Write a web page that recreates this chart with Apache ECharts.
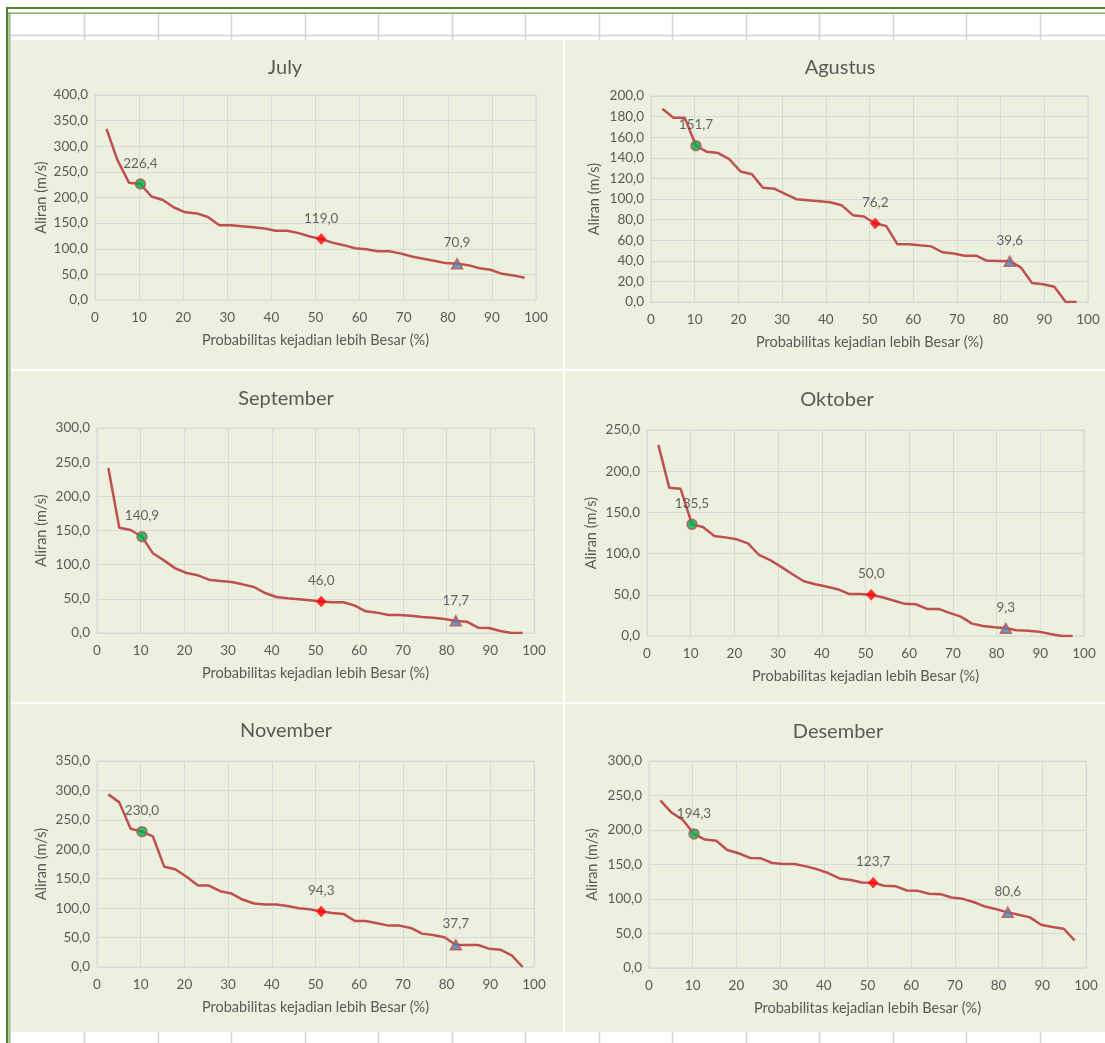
<!DOCTYPE html>
<html>
<head>
<meta charset="utf-8">
<script src="https://cdn.jsdelivr.net/npm/echarts@6/dist/echarts.min.js"></script>
<style>
html, body { margin: 0; padding: 0; background: #fff; }
#main { width: 1105px; height: 1043px; }
</style>
</head>
<body>
<div id="main"></div>
<script>
// probabilitas (%) - 38 titik, sama untuk tiap bulan
var prob = [2.6, 5.1, 7.7, 10.3, 12.8, 15.4, 17.9, 20.5, 23.1, 25.6, 28.2, 30.8, 33.3, 35.9, 38.5, 41.0, 43.6, 46.2, 48.7,
    51.3, 53.8, 56.4, 59.0, 61.5, 64.1, 66.7, 69.2, 71.8, 74.4, 76.9, 79.5, 82.1, 84.6, 87.2, 89.7, 92.3, 94.9, 97.4];

var months = ['July', 'Agustus', 'September', 'Oktober', 'November', 'Desember'];

var july = [333.8, 273, 229, 226.4, 202, 195, 180.5, 171, 169, 162, 146, 146, 144, 142, 139.6, 135, 135, 130.5, 124,
    119.0, 112, 107, 101, 99, 95, 95, 91, 85, 80.5, 76.6, 72, 70.9, 68, 62, 59, 51, 48, 43.5];
var agustus = [187.7, 179, 179, 151.7, 145.8, 144.6, 138.7, 126.7, 124, 111, 110, 104.7, 99.8, 98.9, 97.9, 96.9, 94, 84.3, 83,
    76.2, 73.9, 56, 56, 55, 54, 48.3, 47, 45, 45, 40.0, 39.8, 39.6, 33.7, 18.5, 17.2, 14.9, 0, 0];
var september = [241.5, 154, 150.7, 140.9, 116.6, 105.9, 94.6, 87.8, 84.4, 78, 76, 74.6, 71.2, 67.3, 58.5, 52.7, 50.7, 49.3, 47.8,
    46.0, 44.9, 44.9, 40, 31.7, 29.8, 26.3, 26.3, 25.4, 23.4, 22.4, 20.5, 17.7, 16.6, 7.8, 7.3, 2.9, 0, 0];
var oktober = [232, 179.8, 178.6, 135.5, 132.3, 121.3, 119.7, 117.3, 112.4, 98.6, 92, 83.6, 75, 66.5, 62.9, 60, 56.8, 51.1, 51.1,
    50.0, 47, 43, 39, 38.5, 32.9, 32.9, 28, 23.5, 15, 12.2, 10.5, 9.3, 6.9, 6.5, 5.3, 2.4, 0, 0];
var november = [293.3, 279.7, 234.9, 230.0, 221.8, 170.2, 166.2, 153.2, 138.4, 138.4, 128.8, 124.8, 114.6, 107.8, 106.1, 106.1, 103.8, 99.8, 98.1,
    94.3, 91.9, 90.2, 78.3, 78.3, 74.3, 70.3, 70.3, 66.4, 56.7, 54.5, 50.5, 37.7, 37.4, 37.4, 31.2, 29.5, 19.9, 0];
var desember = [243, 225.6, 214.9, 194.3, 186.2, 184.3, 171.1, 166.3, 159.5, 159, 152.2, 150.7, 150.7, 147.3, 143, 137.6, 129.8, 127.4, 124,
    123.7, 119.1, 118.6, 112.3, 111.8, 107.5, 107, 102.1, 100.2, 95.3, 89, 85.1, 80.6, 77.3, 73.4, 62.7, 59.3, 56.9, 39.9];

var allData = [july, agustus, september, oktober, november, desember];
var yMax = [400, 200, 300, 250, 350, 300];
var yStep = [50, 20, 50, 50, 50, 50];
var markerIdx = [3, 19, 31]; // titik yang diberi label

var font = 'Lato';
var txt = '#595959';
var gridLine = '#D9D9D9';
var lineColor = '#C0504D';

// letak tiap panel di halaman
var panels = [
    { grid: { left: 95, top: 95, width: 441, height: 205 }, title: [285, 68], nameGap: 46 },
    { grid: { left: 651, top: 96, width: 437, height: 206 }, title: [840, 68], nameGap: 49 },
    { grid: { left: 97, top: 428, width: 437, height: 205 }, title: [286, 399], nameGap: 48 },
    { grid: { left: 647, top: 430, width: 437, height: 206 }, title: [837, 400], nameGap: 48 },
    { grid: { left: 97, top: 761, width: 437, height: 206 }, title: [286, 731], nameGap: 48 },
    { grid: { left: 649, top: 761, width: 437, height: 207 }, title: [838, 732], nameGap: 49 }
];

function koma(v) {
    return Number(v).toFixed(1).replace('.', ',');
}

var dom = document.getElementById('main');
var myChart = echarts.init(dom, null, { renderer: 'canvas' });

var grids = [], xAxes = [], yAxes = [], series = [];
var graphics = [];

// latar: kotak panel
var cols = [[11, 552], [565, 540]];
var rows = [[40, 329], [371, 331], [704, 328]];
rows.forEach(function (r) {
    cols.forEach(function (c) {
        graphics.push({
            type: 'rect', z: -10, silent: true,
            shape: { x: c[0], y: r[0], width: c[1], height: r[1] },
            style: { fill: '#EBF1DE' }
        });
    });
});

// garis sel lembar kerja di atas dan bawah
for (var cx = 84; cx < 1105; cx += 73.5) {
    graphics.push({ type: 'line', z: -9, silent: true, shape: { x1: Math.round(cx) + 0.5, y1: 14, x2: Math.round(cx) + 0.5, y2: 40 }, style: { stroke: '#D4D4D4', lineWidth: 1.5 } });
    graphics.push({ type: 'line', z: -9, silent: true, shape: { x1: Math.round(cx) + 0.5, y1: 1032, x2: Math.round(cx) + 0.5, y2: 1043 }, style: { stroke: '#D4D4D4', lineWidth: 1.5 } });
}
graphics.push({ type: 'line', z: -9, silent: true, shape: { x1: 11, y1: 35.5, x2: 1105, y2: 35.5 }, style: { stroke: '#D4D4D4', lineWidth: 1.5 } });

// bingkai hijau
graphics.push({ type: 'rect', z: -8, silent: true, shape: { x: 6, y: 7, width: 1099, height: 2 }, style: { fill: '#548235' } });
graphics.push({ type: 'rect', z: -8, silent: true, shape: { x: 6, y: 7, width: 2, height: 1036 }, style: { fill: '#548235' } });
graphics.push({ type: 'rect', z: -8, silent: true, shape: { x: 8, y: 12.5, width: 1097, height: 1.2 }, style: { fill: '#6E9B4A' } });
graphics.push({ type: 'rect', z: -8, silent: true, shape: { x: 8.5, y: 12.5, width: 1.2, height: 1031 }, style: { fill: '#6E9B4A' } });
graphics.push({ type: 'rect', z: -8, silent: true, shape: { x: 10, y: 14, width: 1, height: 1029 }, style: { fill: '#D0D0D0' } });

panels.forEach(function (p, k) {
    var vals = allData[k];
    grids.push(Object.assign({
        show: true, borderColor: gridLine, borderWidth: 1,
        backgroundColor: 'transparent', containLabel: false, outerBoundsMode: 'none'
    }, p.grid));

    xAxes.push({
        gridIndex: k, type: 'value', min: 0, max: 100, interval: 10,
        axisLine: { show: true, lineStyle: { color: gridLine, width: 1 } },
        axisTick: { show: false },
        axisLabel: { color: txt, fontSize: 13.5, fontFamily: font, margin: 11 },
        splitLine: { show: true, lineStyle: { color: gridLine, width: 1 } },
        name: 'Probabilitas kejadian lebih Besar (%)',
        nameLocation: 'middle', nameGap: 33,
        nameTextStyle: { color: txt, fontSize: 14.5, fontFamily: font }
    });

    yAxes.push({
        gridIndex: k, type: 'value', min: 0, max: yMax[k], interval: yStep[k],
        axisLine: { show: true, lineStyle: { color: gridLine, width: 1 } },
        axisTick: { show: false },
        axisLabel: { color: txt, fontSize: 13.5, fontFamily: font, margin: 7, formatter: koma },
        splitLine: { show: true, lineStyle: { color: gridLine, width: 1 } },
        name: 'Aliran (m/s)',
        nameLocation: 'middle', nameGap: p.nameGap, nameRotate: 90,
        nameTextStyle: { color: txt, fontSize: 14.5, fontFamily: font }
    });

    series.push({
        name: months[k], type: 'line', xAxisIndex: k, yAxisIndex: k,
        data: prob.map(function (x, i) { return [x, vals[i]]; }),
        showSymbol: false, symbol: 'none', silent: true,
        lineStyle: { color: lineColor, width: 2.5 },
        z: 3
    });

    var styles = [
        { symbol: 'circle', symbolSize: 10, itemStyle: { color: '#00B050', borderColor: lineColor, borderWidth: 1.5 } },
        { symbol: 'diamond', symbolSize: [10, 11], itemStyle: { color: '#FF0000', borderColor: '#FF0000', borderWidth: 0.5 } },
        { symbol: 'triangle', symbolSize: [11, 10], itemStyle: { color: '#4F81BD', borderColor: lineColor, borderWidth: 1.5 } }
    ];
    series.push({
        type: 'scatter', xAxisIndex: k, yAxisIndex: k, silent: true, z: 4,
        data: markerIdx.map(function (idx, j) {
            return Object.assign({ value: [prob[idx], vals[idx]] }, styles[j]);
        }),
        label: {
            show: true, position: 'top', distance: 8,
            color: '#404040', fontSize: 13.5, fontFamily: font,
            formatter: function (d) { return koma(d.value[1]); }
        }
    });

    graphics.push({
        type: 'text', silent: true, x: p.title[0], y: p.title[1],
        style: {
            text: months[k], fill: txt, fontSize: 20, fontFamily: font,
            textAlign: 'center', textVerticalAlign: 'middle'
        }
    });
});

// garis putih pemisah panel
graphics.push({ type: 'rect', z: -7, silent: true, shape: { x: 563, y: 40, width: 1.5, height: 992 }, style: { fill: '#FFFFFF' } });

var option = {
    backgroundColor: '#FFFFFF',
    animation: false,
    textStyle: { fontFamily: font },
    grid: grids,
    xAxis: xAxes,
    yAxis: yAxes,
    series: series,
    graphic: { elements: graphics }
};

option && myChart.setOption(option);
</script>
</body>
</html>
